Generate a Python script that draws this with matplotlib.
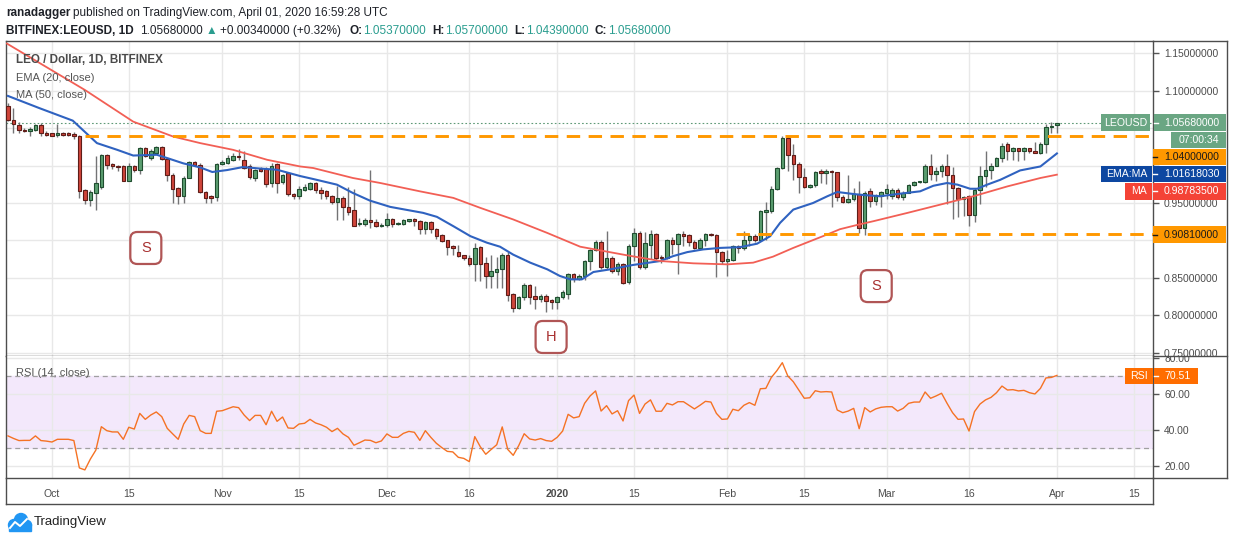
import numpy as np
import pandas as pd
import matplotlib
matplotlib.use('Agg')
import matplotlib.pyplot as plt
from matplotlib.patches import Rectangle, FancyBboxPatch, Circle
from matplotlib.lines import Line2D
from matplotlib.transforms import IdentityTransform, Bbox, TransformedBbox

plt.rcParams['font.family'] = ['Liberation Sans', 'DejaVu Sans']

# Velas diarias LEO/USD desde el 23-sep-2019
fecha_inicio = '2019-09-23'
opens = [1.080, 1.061, 1.054, 1.048, 1.0466, 1.048, 1.054, 1.044, 1.043, 1.0405,
         1.043, 1.043, 1.042, 1.040, 0.967, 0.954, 0.964, 0.971, 1.014, 1.002,
         0.999, 0.999, 0.980, 0.999, 0.994, 1.023, 1.010, 1.017, 1.025, 1.009,
         0.988, 0.970, 0.959, 0.984, 1.005, 1.001, 0.965, 0.959, 0.958, 1.002,
         1.003, 1.008, 1.013, 1.008, 0.999, 0.984, 0.995, 0.996, 0.977, 1.002,
         0.978, 0.990, 0.962, 0.959, 0.967, 0.969, 0.977, 0.968, 0.966, 0.960,
         0.951, 0.957, 0.945, 0.940, 0.922, 0.922, 0.927, 0.925, 0.919, 0.920,
         0.929, 0.922, 0.922, 0.926, 0.928, 0.926, 0.915, 0.924, 0.915, 0.907,
         0.900, 0.892, 0.885, 0.880, 0.877, 0.869, 0.891, 0.870, 0.853, 0.858,
         0.862, 0.881, 0.828, 0.810, 0.824, 0.841, 0.826, 0.822, 0.826, 0.820,
         0.818, 0.824, 0.829, 0.855, 0.848, 0.852, 0.873, 0.887, 0.898, 0.865,
         0.877, 0.859, 0.869, 0.845, 0.893, 0.910, 0.864, 0.894, 0.909, 0.878,
         0.876, 0.901, 0.895, 0.908, 0.907, 0.898, 0.890, 0.901, 0.909, 0.907,
         0.885, 0.873, 0.874, 0.893, 0.890, 0.900, 0.906, 0.901, 0.938, 0.939,
         0.969, 0.997, 1.037, 1.014, 1.002, 0.985, 0.971, 0.974, 0.993, 0.990,
         0.993, 0.991, 0.958, 0.951, 0.955, 0.962, 0.916, 0.966, 0.952, 0.960,
         0.964, 0.960, 0.968, 0.958, 0.964, 0.974, 0.978, 0.978, 1.000, 0.989,
         0.993, 1.000, 0.988, 0.970, 0.956, 0.959, 0.934, 0.968, 0.986, 0.994,
         1.000, 1.010, 1.029, 1.020, 1.023, 1.020, 1.023, 1.019, 1.017, 1.029,
         1.0516, 1.0537]
highs = [1.083, 1.077, 1.058, 1.050, 1.052, 1.056, 1.057, 1.046, 1.044, 1.055,
         1.045, 1.045, 1.045, 1.041, 0.969, 0.967, 1.013, 1.016, 1.015, 1.004,
         1.001, 1.001, 1.004, 1.001, 1.025, 1.025, 1.022, 1.026, 1.026, 1.010,
         0.990, 0.972, 0.986, 1.006, 1.006, 1.003, 0.966, 0.961, 1.003, 1.007,
         1.014, 1.017, 1.022, 1.019, 1.002, 0.996, 0.998, 0.998, 1.003, 1.004,
         0.989, 0.992, 0.963, 0.973, 0.975, 0.978, 0.978, 0.971, 0.967, 0.961,
         0.973, 0.960, 0.972, 0.969, 0.930, 0.930, 0.994, 0.928, 0.923, 0.936,
         0.930, 0.924, 0.928, 0.929, 0.930, 0.927, 0.926, 0.926, 0.916, 0.908,
         0.901, 0.894, 0.894, 0.881, 0.881, 0.897, 0.892, 0.878, 0.880, 0.878,
         0.883, 0.884, 0.830, 0.826, 0.843, 0.842, 0.839, 0.828, 0.828, 0.822,
         0.826, 0.834, 0.856, 0.857, 0.855, 0.874, 0.888, 0.901, 0.900, 0.913,
         0.879, 0.871, 0.870, 0.895, 0.917, 0.912, 0.911, 0.914, 0.910, 0.881,
         0.902, 0.905, 0.910, 0.912, 0.909, 0.901, 0.903, 0.910, 0.910, 0.908,
         0.886, 0.887, 0.894, 0.894, 0.913, 0.908, 0.908, 0.940, 0.951, 0.973,
         0.998, 1.040, 1.039, 1.029, 1.005, 0.997, 0.976, 0.993, 0.996, 0.995,
         0.994, 0.992, 0.961, 0.988, 0.970, 0.980, 0.966, 0.970, 0.962, 0.966,
         0.975, 0.970, 0.970, 0.966, 0.975, 0.979, 0.980, 1.002, 1.016, 0.998,
         1.002, 1.016, 0.998, 0.971, 0.959, 0.961, 0.970, 0.999, 1.019, 1.003,
         1.011, 1.030, 1.031, 1.025, 1.024, 1.025, 1.024, 1.031, 1.031, 1.0556,
         1.058, 1.057]
lows = [1.060, 1.044, 1.044, 1.045, 1.040, 1.046, 1.040, 1.040, 1.039, 1.038,
        1.040, 1.040, 1.035, 0.957, 0.948, 0.946, 0.941, 0.969, 0.996, 0.996,
        0.993, 0.979, 0.979, 0.992, 0.989, 1.012, 1.008, 1.015, 1.007, 0.980,
        0.950, 0.948, 0.950, 0.983, 1.000, 0.963, 0.950, 0.950, 0.952, 1.001,
        1.002, 1.006, 1.008, 0.996, 0.982, 0.980, 0.992, 0.972, 0.972, 0.963,
        0.975, 0.960, 0.955, 0.955, 0.966, 0.968, 0.963, 0.956, 0.956, 0.948,
        0.927, 0.927, 0.934, 0.919, 0.919, 0.919, 0.917, 0.918, 0.918, 0.918,
        0.918, 0.921, 0.920, 0.925, 0.919, 0.909, 0.909, 0.910, 0.902, 0.898,
        0.881, 0.881, 0.878, 0.874, 0.866, 0.846, 0.846, 0.837, 0.837, 0.837,
        0.837, 0.819, 0.805, 0.808, 0.820, 0.815, 0.808, 0.818, 0.805, 0.809,
        0.808, 0.822, 0.822, 0.845, 0.847, 0.847, 0.860, 0.886, 0.862, 0.862,
        0.857, 0.854, 0.842, 0.842, 0.873, 0.862, 0.862, 0.875, 0.873, 0.870,
        0.875, 0.882, 0.855, 0.893, 0.893, 0.888, 0.888, 0.893, 0.906, 0.851,
        0.869, 0.852, 0.873, 0.883, 0.887, 0.893, 0.898, 0.900, 0.900, 0.937,
        0.967, 0.995, 0.993, 0.981, 0.963, 0.970, 0.970, 0.972, 0.977, 0.975,
        0.944, 0.953, 0.950, 0.950, 0.953, 0.910, 0.907, 0.945, 0.947, 0.945,
        0.955, 0.955, 0.955, 0.954, 0.963, 0.973, 0.977, 0.977, 0.981, 0.979,
        0.985, 0.948, 0.929, 0.931, 0.932, 0.919, 0.924, 0.948, 0.972, 0.982,
        0.999, 1.005, 1.008, 1.008, 1.006, 1.008, 1.017, 1.017, 1.016, 1.017,
        1.044, 1.0439]
closes = [1.061, 1.055, 1.047, 1.046, 1.049, 1.054, 1.043, 1.041, 1.040, 1.044,
          1.041, 1.041, 1.039, 0.966, 0.954, 0.965, 0.977, 1.014, 1.001, 0.999,
          0.998, 0.980, 0.999, 0.994, 1.024, 1.013, 1.020, 1.025, 1.009, 0.988,
          0.969, 0.959, 0.984, 1.005, 1.001, 0.965, 0.957, 0.957, 1.002, 1.005,
          1.010, 1.013, 1.011, 0.997, 0.985, 0.994, 0.993, 0.975, 1.000, 0.977,
          0.987, 0.962, 0.959, 0.969, 0.971, 0.977, 0.967, 0.964, 0.959, 0.951,
          0.956, 0.945, 0.938, 0.919, 0.922, 0.927, 0.924, 0.919, 0.921, 0.929,
          0.922, 0.922, 0.927, 0.928, 0.926, 0.915, 0.924, 0.915, 0.906, 0.899,
          0.891, 0.890, 0.879, 0.876, 0.869, 0.890, 0.869, 0.852, 0.859, 0.862,
          0.881, 0.827, 0.810, 0.824, 0.841, 0.825, 0.822, 0.826, 0.819, 0.818,
          0.824, 0.831, 0.855, 0.848, 0.852, 0.873, 0.887, 0.898, 0.865, 0.877,
          0.859, 0.869, 0.843, 0.893, 0.910, 0.864, 0.896, 0.909, 0.877, 0.876,
          0.901, 0.895, 0.908, 0.906, 0.898, 0.890, 0.901, 0.909, 0.907, 0.885,
          0.873, 0.875, 0.893, 0.890, 0.900, 0.906, 0.901, 0.939, 0.940, 0.969,
          0.997, 1.037, 1.014, 1.002, 0.985, 0.971, 0.974, 0.992, 0.990, 0.993,
          0.991, 0.958, 0.951, 0.955, 0.962, 0.916, 0.964, 0.952, 0.960, 0.965,
          0.969, 0.968, 0.958, 0.964, 0.974, 0.978, 0.979, 1.000, 0.989, 0.993,
          1.000, 0.987, 0.970, 0.956, 0.958, 0.934, 0.968, 0.986, 0.994, 1.000,
          1.010, 1.026, 1.020, 1.023, 1.020, 1.023, 1.019, 1.017, 1.029, 1.0516,
          1.0534, 1.0568]

# EMA 20 y MA 50 (posicion en velas, valor)
ema_pos = [0, 5.8, 11.8, 16.2, 19.9, 22.8, 27.1, 29.0, 31.9, 35.0, 37.2, 39.9, 42.8,
           45.9, 49.0, 53.2, 55.6, 59.9, 62.8, 65.9, 69.6, 73.2, 75.6, 78.1, 81.1,
           84.2, 87.2, 89.6, 92.0, 95.1, 98.2, 100.5, 102.4, 104.5, 106.6, 109.7,
           113.8, 118.8, 121.1, 123.7, 126.6, 129.7, 133.3, 136.4, 138.8, 140.6,
           143.0, 146.6, 149.2, 151.0, 153.4, 155.2, 158.8, 162.5, 166.1, 168.5,
           171.0, 172.9, 175.2, 176.5, 178.3, 180.7, 184.3, 188.0, 191]
ema_vals = [1.093, 1.0765, 1.060, 1.030, 1.021, 1.0134, 1.0144, 1.010, 1.003, 0.9975,
            0.9914, 0.994, 0.998, 0.996, 0.9944, 0.986, 0.982, 0.9745, 0.9634, 0.9532,
            0.9448, 0.940, 0.9368, 0.9315, 0.919, 0.9057, 0.897, 0.8916, 0.881, 0.8703,
            0.8614, 0.8525, 0.848, 0.848, 0.8578, 0.8614, 0.8672, 0.8725, 0.879, 0.8844,
            0.888, 0.890, 0.891, 0.8956, 0.9057, 0.9235, 0.9412, 0.950, 0.959, 0.9647,
            0.9625, 0.961, 0.959, 0.9625, 0.9656, 0.973, 0.9767, 0.9745, 0.969, 0.969,
            0.9745, 0.981, 0.9935, 0.9988, 1.0161803]
ma_pos = [-0.2, 14.0, 22.8, 30.1, 35.0, 41.0, 47.2, 53.2, 55.6, 62.8, 67.8, 75.0,
          81.1, 86.0, 92.0, 98.2, 104.2, 112.8, 118.8, 124.8, 131.0, 135.7, 139.3,
          143.0, 149.2, 151.5, 154.8, 157.6, 163.8, 169.8, 175.8, 182.0, 188.0, 191]
ma_vals = [1.163, 1.101, 1.0587, 1.0387, 1.030, 1.021, 1.0077, 0.9988, 0.9967, 0.9834,
           0.9767, 0.9656, 0.9568, 0.9435, 0.928, 0.910, 0.8916, 0.880, 0.8725, 0.8694,
           0.868, 0.8703, 0.8783, 0.890, 0.908, 0.915, 0.921, 0.9257, 0.9368, 0.9479,
           0.959, 0.9722, 0.9834, 0.987835]

# RSI 14 por vela
rsi = [36.9, 35.5, 34.3, 34.4, 34.4, 36.9, 34.3, 34.0, 33.5, 35.0,
       35.0, 35.0, 34.3, 19.1, 18.0, 24.0, 29.0, 42.0, 39.8, 39.1,
       39.1, 35.0, 41.7, 40.7, 49.4, 46.1, 48.5, 50.2, 47.6, 41.1,
       38.0, 35.0, 43.5, 48.3, 47.6, 39.8, 38.3, 38.3, 50.6, 50.9,
       52.0, 53.1, 52.6, 48.5, 45.4, 48.3, 48.3, 43.1, 50.6, 45.0,
       47.4, 41.3, 41.1, 43.5, 43.9, 46.1, 44.1, 43.1, 41.7, 39.3,
       41.1, 38.0, 36.1, 31.7, 33.1, 34.6, 34.4, 33.1, 34.1, 38.0,
       36.1, 36.1, 38.3, 39.4, 38.9, 34.4, 39.8, 36.1, 32.8, 30.4,
       28.3, 28.0, 25.0, 24.4, 22.6, 36.5, 30.9, 26.7, 29.4, 32.0,
       41.9, 29.4, 26.1, 31.5, 38.1, 35.2, 34.6, 35.4, 34.3, 33.9,
       36.1, 39.6, 48.9, 46.9, 47.6, 55.0, 59.1, 61.9, 50.7, 53.7,
       49.1, 50.9, 45.2, 56.5, 59.6, 49.4, 54.6, 56.9, 50.6, 50.6,
       55.0, 54.1, 55.9, 55.9, 53.9, 51.9, 53.9, 56.1, 55.7, 49.4,
       46.1, 46.3, 51.7, 50.9, 53.9, 55.4, 53.9, 63.1, 63.3, 69.4,
       73.1, 77.6, 70.2, 67.0, 62.4, 57.8, 58.1, 62.0, 61.3, 61.5,
       61.3, 51.3, 49.8, 50.7, 52.2, 40.9, 52.6, 50.2, 51.9, 52.8,
       53.1, 53.1, 50.7, 52.2, 55.0, 55.7, 55.7, 61.3, 57.8, 59.1,
       60.6, 55.0, 49.8, 46.1, 46.3, 39.6, 50.4, 54.6, 56.9, 58.3,
       60.9, 64.6, 62.4, 62.6, 61.9, 62.2, 60.9, 60.2, 63.3, 69.1,
       69.4, 70.51]

resistencia = 1.04
soporte = 0.9081
precios_eje = [0.75, 0.80, 0.85, 0.90, 0.95, 1.00, 1.05, 1.10, 1.15]
precios_tapados = [0.90, 1.00, 1.05]   # quedan bajo las etiquetas de color
fechas_ticks = ['2019-10-01', '2019-10-15', '2019-11-01', '2019-11-15', '2019-12-01',
                '2019-12-16', '2020-01-01', '2020-01-15', '2020-02-01', '2020-02-15',
                '2020-03-01', '2020-03-16', '2020-04-01', '2020-04-15']
etiquetas_ticks = ['Oct', '15', 'Nov', '15', 'Dec', '16', '2020', '15', 'Feb', '15',
                   'Mar', '16', 'Apr', '15']

# Figura en pixeles
W, H = 1234, 541
fig = plt.figure(figsize=(W / 100, H / 100), dpi=100)
fig.patch.set_facecolor('white')


def fx(px):
    return px / W


def fy(py):
    return 1 - py / H


ax = fig.add_axes([fx(6), fy(356), fx(1153) - fx(6), fy(41) - fy(356)])
ax_rsi = fig.add_axes([fx(6), fy(478), fx(1153) - fx(6), fy(356) - fy(478)], sharex=ax)

o = np.array(opens)
h = np.array(highs)
l = np.array(lows)
c = np.array(closes)
x = np.arange(len(c))
sube = c >= o

# Velas
ax.vlines(x, l, h, color='#737375', lw=1, zorder=2)
alto = np.maximum(np.abs(c - o), 0.0012)
base = np.minimum(o, c)
ax.bar(x[sube], alto[sube], bottom=base[sube], width=0.64, color='#5b9e70',
       edgecolor='#1f4d2f', lw=0.8, zorder=3)
ax.bar(x[~sube], alto[~sube], bottom=base[~sube], width=0.64, color='#d0453a',
       edgecolor='#5e1d18', lw=0.8, zorder=3)

# Medias moviles
ax.plot(ema_pos, ema_vals, color='#2f62c0', lw=1.5, zorder=4)
ax.plot(ma_pos, ma_vals, color='#f25f55', lw=1.3, zorder=4)

xmax = 208.5
ax.hlines(resistencia, 14.0, xmax, colors='#ff9800', lw=2.1, zorder=5,
          linestyles=(0, (4.6, 2.9)))
ax.hlines(soporte, 132.6, xmax, colors='#ff9800', lw=2.1, zorder=5,
          linestyles=(0, (4.6, 2.9)))
ax.axhline(c[-1], color='#5f9a77', lw=0.8, ls=(0, (1.5, 2)), zorder=1.5)

ax.set_xlim(-0.36, xmax)
ax.set_ylim(0.7456, 1.1664)

inicio = pd.Timestamp(fecha_inicio)
pos_ticks = [(pd.Timestamp(d) - inicio).days for d in fechas_ticks]
ax.set_xticks(pos_ticks)
ax.tick_params(axis='x', length=0, labelbottom=False)
ax.yaxis.tick_right()
ax.set_yticks(precios_eje)
ax.set_yticklabels(['' if any(abs(v - t) < 1e-9 for t in precios_tapados) else f'{v:.8f}'
                    for v in precios_eje])
ax.tick_params(axis='y', length=4, width=1, color='#555555', pad=4,
               labelsize=7.4, labelcolor='#4c4c4c')
ax.grid(True, color='#e8e8e8', lw=1)
ax.set_axisbelow(True)
for s in ax.spines.values():
    s.set_color('#4d4d4d')
    s.set_linewidth(1)

# RSI
ax_rsi.axhspan(30, 70, color='#f3e8fb', zorder=0.5)
ax_rsi.axhline(70, color='#a0a0a0', lw=0.9, ls=(0, (4, 3)), zorder=1)
ax_rsi.axhline(30, color='#a0a0a0', lw=0.9, ls=(0, (4, 3)), zorder=1)
ax_rsi.plot(x, rsi, color='#f57224', lw=1, zorder=3)
ax_rsi.set_ylim(13.5, 81.3)
ax_rsi.yaxis.tick_right()
ax_rsi.set_yticks([20, 40, 60, 80])
ax_rsi.set_yticklabels(['20.00', '40.00', '60.00', '80.00'])
ax_rsi.tick_params(axis='y', length=4, width=1, color='#555555', pad=4,
                   labelsize=7.4, labelcolor='#4c4c4c')
ax_rsi.set_xticks(pos_ticks)
ax_rsi.set_xticklabels(etiquetas_ticks)
ax_rsi.tick_params(axis='x', length=0, pad=8, labelsize=7.6, labelcolor='#4c4c4c')
for t in ax_rsi.get_xticklabels():
    if t.get_text() == '2020':
        t.set_fontweight('bold')
ax_rsi.grid(True, color='#e8e8e8', lw=1)
ax_rsi.set_axisbelow(True)
for s in ax_rsi.spines.values():
    s.set_color('#4d4d4d')
    s.set_linewidth(1)
ax_rsi.spines['top'].set_visible(False)

# Las etiquetas 0.75 y 80.00 se cortan en la linea que separa los paneles
arriba = TransformedBbox(Bbox.from_extents(fx(1153), fy(356), 1, 1), fig.transFigure)
abajo = TransformedBbox(Bbox.from_extents(fx(1153), 0, 1, fy(356)), fig.transFigure)
lab075 = ax.yaxis.get_major_ticks()[0].label2
lab075.set_clip_on(True)
lab075.set_clip_box(arriba)
lab80 = ax_rsi.yaxis.get_major_ticks()[3].label2
lab80.set_clip_on(True)
lab80.set_clip_box(abajo)


# Marco exterior
def linea(x0, y0, x1, y1):
    fig.add_artist(Line2D([fx(x0), fx(x1)], [fy(y0), fy(y1)], transform=fig.transFigure,
                          color='#4d4d4d', lw=1))


linea(1153, 41, 1227, 41)
linea(1227, 41, 1227, 478)
linea(1153, 356, 1227, 356)
linea(1153, 478, 1227, 478)
linea(6, 504, 1153, 504)
linea(6, 478, 6, 504)
linea(1153, 478, 1153, 504)


# Etiquetas del eje de precios
def caja(x0, x1, yc, texto, fondo, color_txt, alto_px=16.5, marca=False):
    fig.add_artist(Rectangle((fx(x0), fy(yc + alto_px / 2)), fx(x1) - fx(x0), alto_px / H,
                             transform=fig.transFigure, facecolor=fondo, edgecolor='none',
                             zorder=5))
    fig.text(fx((x0 + x1) / 2 + (2 if marca else 0)), fy(yc), texto, color=color_txt,
             fontsize=7.6, ha='center', va='center', zorder=6)
    if marca:
        fig.add_artist(Line2D([fx(x0), fx(x0 + 4)], [fy(yc), fy(yc)], transform=fig.transFigure,
                              color=color_txt, lw=1, zorder=6))


verde = '#6aa683'
caja(1101, 1150, 122.5, 'LEOUSD', verde, 'white')
caja(1154, 1226, 122.5, f'{c[-1]:.8f}', verde, 'white', marca=True)
caja(1171, 1226, 140, '07:00:34', verde, 'white')
caja(1153, 1226, 157, f'{resistencia:.8f}', '#ff9800', '#1a1a1a', marca=True)
caja(1101, 1152, 174, 'EMA:MA', '#0d47a1', 'white')
caja(1153, 1226, 174, f'{ema_vals[-1]:.8f}', '#0d47a1', 'white', marca=True)
caja(1125, 1152, 191.3, 'MA', '#f44336', 'white')
caja(1153, 1226, 191.3, f'{ma_vals[-1]:.8f}', '#f44336', 'white', marca=True)
caja(1153, 1226, 234.7, f'{soporte:.8f}', '#ff9800', '#1a1a1a', marca=True)
caja(1125, 1153, 376, 'RSI', '#ff6d00', 'white')
caja(1154, 1198, 376, f'{rsi[-1]:.2f}', '#ff6d00', 'white', marca=True)

# Textos de leyenda
fig.text(fx(16), fy(60), 'LEO / Dollar, 1D, BITFINEX', fontsize=8.4, fontweight='bold',
         color='#4a4a4a', va='center')
fig.text(fx(16), fy(78), 'EMA (20, close)', fontsize=8, color='#555555', va='center')
fig.text(fx(16), fy(95), 'MA (50, close)', fontsize=8, color='#555555', va='center')
fig.text(fx(16), fy(373), 'RSI (14, close)', fontsize=8, color='#555555', va='center')

# Cajas S-H-S
for px, py, letra in [(25.1, 0.8899, 'S'), (98.9, 0.771, 'H'), (158.1, 0.839, 'S')]:
    cx, cy = ax.transData.transform((px, py))
    ax.add_patch(FancyBboxPatch((cx - 15.5, cy - 16), 31, 32,
                                boxstyle='round,pad=0,rounding_size=7',
                                transform=IdentityTransform(), facecolor='white',
                                edgecolor='#b05555', lw=1.6, zorder=6))
    ax.text(px, py, letra, fontsize=10.5, color='#a83030', ha='center', va='center',
            zorder=7)

# Cabecera
renderer = fig.canvas.get_renderer()


def escribir(x_px, y_px, partes, size=8.5):
    for texto, color, peso, hueco in partes:
        t = fig.text(fx(x_px), fy(y_px), texto, color=color, fontsize=size,
                     fontweight=peso, va='center', ha='left')
        x_px += t.get_window_extent(renderer=renderer).width + hueco


oscuro = '#1e2128'
teal = '#2a9d8f'
cambio = c[-1] - c[-2]
pct = cambio / c[-2] * 100
escribir(6, 13, [('ranadagger', oscuro, 'bold', 3),
                 ('published on TradingView.com, April 01, 2020 16:59:28 UTC', oscuro, 'normal', 0)])
escribir(6, 31, [('BITFINEX:LEOUSD, 1D', oscuro, 'bold', 6),
                 (f'{c[-1]:.8f}', oscuro, 'normal', 3),
                 ('▲', teal, 'normal', 3),
                 (f'+{cambio:.8f} (+{pct:.2f}%)', oscuro, 'normal', 8),
                 ('O:', oscuro, 'bold', 1), (f'{o[-1]:.8f}', teal, 'normal', 6),
                 ('H:', oscuro, 'bold', 1), (f'{h[-1]:.8f}', teal, 'normal', 6),
                 ('L:', oscuro, 'bold', 1), (f'{l[-1]:.8f}', teal, 'normal', 6),
                 ('C:', oscuro, 'bold', 1), (f'{c[-1]:.8f}', teal, 'normal', 0)])

# Logo TradingView
azul = '#2196f3'
for (cx, cy, r) in [(14, 525, 5.5), (21, 520, 6.5), (27, 525, 4.5)]:
    fig.add_artist(Circle((cx, H - cy), r, transform=IdentityTransform(), color=azul))
fig.add_artist(Rectangle((9, H - 531), 22, 7, transform=IdentityTransform(), color=azul))
fig.add_artist(Line2D([10, 15, 20, 27], [H - 528, H - 522, H - 526, H - 519],
                      transform=IdentityTransform(), color='white', lw=1.4))
fig.text(fx(34), fy(522), 'TradingView', fontsize=9.5, color='#222222', va='center')

fig.savefig('out.png', dpi=100)
